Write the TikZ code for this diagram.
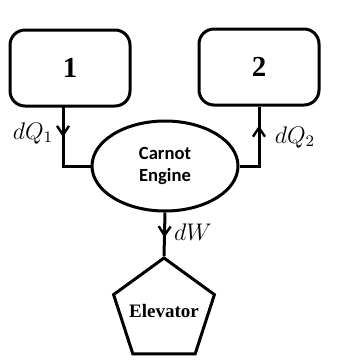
\documentclass[tikz,border=0pt]{standalone}
\usepackage{fontspec}
\setmainfont{Liberation Serif}
\newfontfamily\carlito{Carlito}
\usepackage{tikz}
\usetikzlibrary{positioning,arrows.meta,shapes.geometric,decorations.markings}
\tikzset{
  res/.style={draw, line width=1.5pt, rounded corners=7.5pt, minimum width=60pt, minimum height=38pt,
              font=\fontsize{14.5}{16}\selectfont\bfseries},
  eng/.style={draw, line width=1.5pt, ellipse, minimum width=73pt, minimum height=45pt, inner sep=0pt,
              align=center, font=\carlito\fontsize{9.3}{11}\selectfont\bfseries},
  load/.style={draw, line width=1.5pt, regular polygon, regular polygon sides=5, minimum size=53pt,
               inner sep=0pt, font=\fontsize{9.5}{11}\selectfont\bfseries},
  flow/.style={line width=1.5pt},
  tipat/.style={postaction={decorate}, decoration={markings,
                mark=at position #1 with {\arrow{Straight Barb[length=4.5pt,width=6pt,line width=1.2pt]}}}},
  lbl/.style={font=\fontsize{12}{14}\selectfont, inner sep=0pt},
}
\begin{document}
\begin{tikzpicture}[x=0.5pt, y=-0.5pt]
  \useasboundingbox (0,0) rectangle (364,360);
  % the two reservoirs
  \node[res] (r1) at (70,68)  {1};
  \node[res] (r2) at (259,67) {2};
  % engine and the load it lifts
  \node[eng] (ce) at (165,166) {Carnot\\Engine};
  \node[load] (el) at (164,311) {\makebox[0pt]{Elevator}};
  % heat in, heat out, work out
  \coordinate (c1) at (63,106);
  \draw[flow, tipat=15.5pt] (c1) |- (ce.west);
  \draw[flow, tipat=30pt] (ce.east) -| (r2.south);
  \draw[flow, tipat=12.5pt] (ce.south) -- (el.corner 1);
  \node[lbl] (q1) at (33,133) {$dQ_1$};
  \node[lbl] (q2) at (295,137) {$dQ_2$};
  \node[lbl] (w)  at (193,232) {$dW$};
\end{tikzpicture}
\end{document}
